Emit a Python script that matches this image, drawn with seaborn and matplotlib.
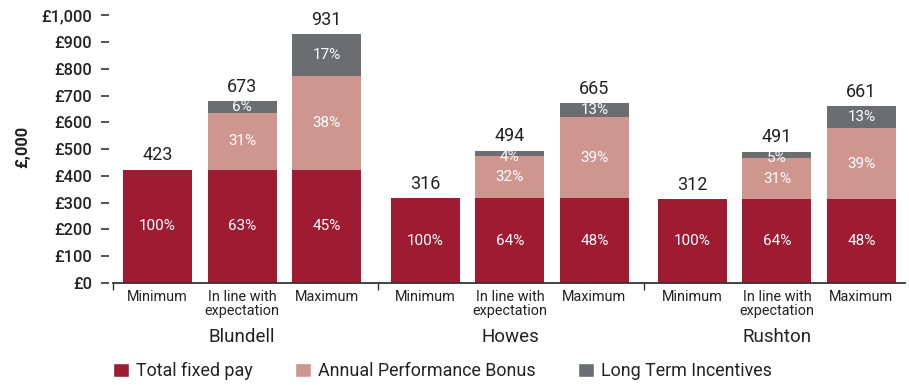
import matplotlib
matplotlib.use("Agg")
import matplotlib.pyplot as plt
from matplotlib.patches import Patch
import seaborn as sns
import pandas as pd

# ---- data ----
groups = ["Blundell", "Howes", "Rushton"]
scenarios = ["Minimum", "In line with\nexpectation", "Maximum"]
fixed_pay = [423, 423, 423, 316, 316, 316, 312, 312, 312]
bonus = [0, 212, 349, 0, 158, 303, 0, 156, 266]
lti = [0, 44, 157, 0, 20, 53, 0, 23, 82]
total_labels = ["423", "673", "931", "316", "494", "665", "312", "491", "661"]
fixed_pct = ["100%", "63%", "45%", "100%", "64%", "48%", "100%", "64%", "48%"]
bonus_pct = ["", "31%", "38%", "", "32%", "39%", "", "31%", "39%"]
lti_pct = ["", "6%", "17%", "", "4%", "13%", "", "5%", "13%"]
ytick_values = [0, 100, 200, 300, 400, 500, 600, 700, 800, 900, 1000]
ytick_labels = ["£0", "£100", "£200", "£300", "£400", "£500", "£600", "£700", "£800", "£900", "£1,000"]
series_names = ["Total fixed pay", "Annual Performance Bonus", "Long Term Incentives"]

# ---- style ----
C_FIXED = "#9E1B32"
C_BONUS = "#CF968F"
C_LTI = "#6C6D70"
TXT = "#222222"

sns.set_theme(style="white")
plt.rcParams["font.family"] = ["Roboto", "DejaVu Sans"]

positions = [0, 1, 2, 3.17, 4.17, 5.17, 6.33, 7.33, 8.33]
df = pd.DataFrame({
    "pos": positions,
    "fixed": fixed_pay,
    "bonus": bonus,
    "lti": lti,
})
df["top_bonus"] = df["fixed"] + df["bonus"]
df["top_lti"] = df["top_bonus"] + df["lti"]

fig = plt.figure(figsize=(9.09, 3.85), dpi=100)
ax = fig.add_axes([113 / 909, 102 / 385, 792 / 909, 267.7 / 385])

W = 0.817
for col, color in [("top_lti", C_LTI), ("top_bonus", C_BONUS), ("fixed", C_FIXED)]:
    sns.barplot(data=df, x="pos", y=col, native_scale=True, color=color,
                saturation=1, width=W, ax=ax, linewidth=0, errorbar=None)

ax.set_xlim(-0.527, 8.846)
ax.set_ylim(0, 1000)
ax.set_xlabel("")
ax.set_ylabel("")

# segment labels
PCT_FS = 11
for i, p in enumerate(positions):
    f, b, l = fixed_pay[i], bonus[i], lti[i]
    ax.text(p, f / 2, fixed_pct[i], ha="center", va="center", color="white",
            fontsize=PCT_FS)
    if bonus_pct[i]:
        ax.text(p, f + b / 2, bonus_pct[i], ha="center", va="center", color="white",
                fontsize=PCT_FS)
    if lti_pct[i]:
        yc = f + b + l / 2
        if l < 30:
            yc -= 12
        ax.text(p, yc, lti_pct[i], ha="center", va="center", color="white",
                fontsize=PCT_FS)
    ax.annotate(total_labels[i], xy=(p, f + b + l), xytext=(0, 4),
                textcoords="offset points", ha="center", va="bottom",
                fontsize=13, color=TXT, annotation_clip=False)

# axes styling
for s in ["top", "right", "left"]:
    ax.spines[s].set_visible(False)
ax.spines["left"].set_position(("outward", 3))
ax.spines["bottom"].set_color("#333333")
ax.spines["bottom"].set_linewidth(1.3)

ax.set_yticks(ytick_values, labels=ytick_labels)
ax.tick_params(axis="y", which="major", left=True, length=6, width=1.2, pad=6,
               color="#333333", labelsize=11.8, labelcolor=TXT)
for t in ax.get_yticklabels():
    t.set_fontweight("medium")

ax.set_xticks(positions, labels=scenarios * 3)
ax.tick_params(axis="x", which="major", bottom=False, length=0, pad=5,
               labelsize=10.4, labelcolor=TXT)
for t in ax.get_xticklabels():
    t.set_linespacing(1.0)
    t.set_verticalalignment("top")

ax.set_xticks([-0.527, 2.61, 5.76], minor=True)
ax.tick_params(axis="x", which="minor", bottom=True, length=5, width=1.0,
               color="#333333", direction="out")

# group labels
for g, p in zip(groups, [positions[1], positions[4], positions[7]]):
    ax.annotate(g, xy=(p, 0), xycoords=("data", "axes fraction"),
                xytext=(0, -39), textcoords="offset points",
                ha="center", va="center", fontsize=13.5, fontweight="normal",
                color=TXT)

fig.text(23 / 909, 1 - 147 / 385, "£,000", rotation=90, ha="center", va="center",
         fontsize=11.8, fontweight="bold", color=TXT)

handles = [Patch(facecolor=C_FIXED), Patch(facecolor=C_BONUS), Patch(facecolor=C_LTI)]
fig.legend(handles, series_names, loc="lower left", bbox_to_anchor=(113 / 909, 0.012),
           ncol=3, frameon=False, fontsize=12.9, handlelength=0.9, handleheight=0.85,
           handletextpad=0.4, columnspacing=2.35, borderpad=0.0, borderaxespad=0.0,
           labelcolor=TXT)

fig.savefig("out.png", dpi=100)
